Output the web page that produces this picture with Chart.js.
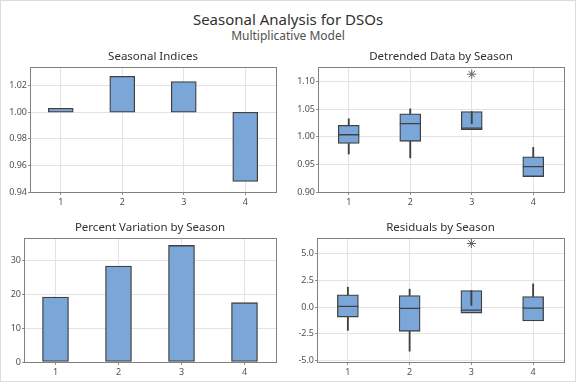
<!DOCTYPE html>
<html>
<head>
<meta charset="utf-8">
<script src="https://cdn.jsdelivr.net/npm/chart.js@4.4.1/dist/chart.umd.min.js"></script>
<style>
  body { margin: 0; background: #fff; }
  #frame {
    position: relative; width: 576px; height: 384px; overflow: hidden;
    font-family: "Noto Sans", "Open Sans", sans-serif;
  }
  #outline {
    position: absolute; left: 0; top: 0; width: 574px; height: 380px;
    border: 1px solid #dcdcdc;
  }
  .ttl { position: absolute; left: 0; width: 576px; text-align: center; white-space: nowrap; }
  #title { top: 9px; font-size: 15px; color: #303030; }
  #subtitle { top: 27px; font-size: 12px; color: #505050; }
  canvas { position: absolute; }
</style>
</head>
<body>
<div id="frame">
  <div id="outline"></div>
  <div id="title" class="ttl">Seasonal Analysis for DSOs</div>
  <div id="subtitle" class="ttl">Multiplicative Model</div>
  <canvas id="indices" width="288" height="170" style="left:0;top:40px"></canvas>
  <canvas id="detrended" width="288" height="170" style="left:288px;top:40px"></canvas>
  <canvas id="percent" width="288" height="170" style="left:0;top:210px"></canvas>
  <canvas id="residuals" width="288" height="170" style="left:288px;top:210px"></canvas>
</div>
<script>
// ---- DATA ----
const SEASONS = ['1', '2', '3', '4'];

const SEASONAL_INDEX = [1.003, 1.027, 1.023, 0.948];
const PCT_VARIATION = [19.3, 28.5, 34.6, 17.6];

// detrended data boxplots (whisker ends, quartiles, median, outliers)
const DET_LOW = [0.969, 0.962, null, null];
const DET_Q1 = [0.988, 0.992, 1.013, 0.928];
const DET_MED = [1.004, 1.024, 1.016, 0.946];
const DET_Q3 = [1.021, 1.042, 1.046, 0.964];
const DET_HIGH = [1.033, 1.051, 1.024, 0.981];
const DET_OUT = [null, null, 1.114, null];

// residual boxplots
const RES_LOW = [-2.17, -4.11, null, null];
const RES_Q1 = [-0.93, -2.26, -0.56, -1.30];
const RES_MED = [0.06, -0.13, -0.28, -0.09];
const RES_Q3 = [1.14, 1.07, 1.54, 0.98];
const RES_HIGH = [1.85, 1.67, 0.15, 2.16];
const RES_OUT = [null, null, 5.93, null];

// ---- STYLE ----
const FILL = '#7BA6D8';
const EDGE = '#404040';
const FONT = '"Noto Sans", "Open Sans", sans-serif';

// frame round the plot area + panel title
const panelPlugin = {
  id: 'panel',
  afterDraw(chart, args, opts) {
    const { ctx, chartArea: a } = chart;
    ctx.save();
    ctx.strokeStyle = '#808080';
    ctx.lineWidth = 1;
    ctx.strokeRect(Math.round(a.left) + 0.5, Math.round(a.top) + 0.5,
      Math.round(a.right - a.left), Math.round(a.bottom - a.top));
    ctx.fillStyle = '#303030';
    ctx.font = '11.5px ' + FONT;
    ctx.textAlign = 'center';
    ctx.textBaseline = 'middle';
    ctx.fillText(opts.text, (a.left + a.right) / 2, a.top - 10.5);
    ctx.restore();
  },
};

function pairs(a, b) {
  return a.map((v, i) => (v === null || b[i] === null ? null : [v, b[i]]));
}

function boxDatasets(low, q1, med, q3, high, out) {
  return [
    {
      type: 'bar', data: pairs(q1, q3), order: 3, grouped: false,
      backgroundColor: FILL, borderColor: EDGE, borderWidth: 1.3,
      borderSkipped: false, barThickness: 21,
    },
    {
      type: 'bar', data: pairs(q3, high), order: 2, grouped: false,
      backgroundColor: EDGE, borderWidth: 0, barThickness: 1.2,
    },
    {
      type: 'bar', data: pairs(low, q1), order: 2, grouped: false,
      backgroundColor: EDGE, borderWidth: 0, barThickness: 1.2,
    },
    {
      type: 'line', data: med, order: 1, showLine: false,
      pointStyle: 'line', pointRadius: 10.5, borderColor: EDGE, borderWidth: 1.3,
    },
    {
      type: 'line', data: out, order: 0, showLine: false,
      pointStyle: 'star', pointRadius: 4.5, borderColor: '#606060', borderWidth: 1,
    },
  ];
}

function makeChart(id, title, datasets, yMin, yMax, step, digits, yWidth, padTop) {
  return new Chart(document.getElementById(id), {
    type: 'bar',
    data: { labels: SEASONS, datasets },
    options: {
      responsive: false,
      animation: false,
      events: [],
      layout: { padding: { top: padTop, right: 12, left: 0, bottom: 0 } },
      plugins: {
        legend: { display: false },
        tooltip: { enabled: false },
        panel: { text: title },
      },
      scales: {
        x: {
          offset: true,
          border: { display: false },
          grid: { offset: false, color: '#e3e3e3', tickLength: 3, tickColor: '#909090' },
          ticks: { padding: 2, color: '#505050', font: { size: 9, family: FONT } },
          afterFit(s) { s.height = 18; },
        },
        y: {
          min: yMin,
          max: yMax,
          border: { display: false },
          grid: { color: '#e3e3e3', tickLength: 2, tickColor: '#909090' },
          ticks: {
            stepSize: step,
            includeBounds: false,
            padding: 1,
            color: '#505050',
            font: { size: 9, family: FONT },
            callback: v => v.toFixed(digits),
          },
          afterFit(s) { s.width = yWidth; },
        },
      },
    },
    plugins: [panelPlugin],
  });
}

Chart.defaults.font.family = FONT;

makeChart('indices', 'Seasonal Indices', [{
  data: SEASONAL_INDEX.map(v => [1, v]),
  backgroundColor: FILL, borderColor: EDGE, borderWidth: 1.3,
  borderSkipped: false, barThickness: 25,
}], 0.94, 1.034, 0.02, 2, 30, 27);

makeChart('detrended', 'Detrended Data by Season',
  boxDatasets(DET_LOW, DET_Q1, DET_MED, DET_Q3, DET_HIGH, DET_OUT),
  0.90, 1.127, 0.05, 2, 30, 27);

makeChart('percent', 'Percent Variation by Season', [{
  data: PCT_VARIATION,
  backgroundColor: FILL, borderColor: EDGE, borderWidth: 1.3,
  borderSkipped: false, barThickness: 26,
}], 0, 36.8, 10, 0, 24, 28);

makeChart('residuals', 'Residuals by Season',
  boxDatasets(RES_LOW, RES_Q1, RES_MED, RES_Q3, RES_HIGH, RES_OUT),
  -5.12, 6.44, 2.5, 1, 29, 28);
</script>
</body>
</html>
